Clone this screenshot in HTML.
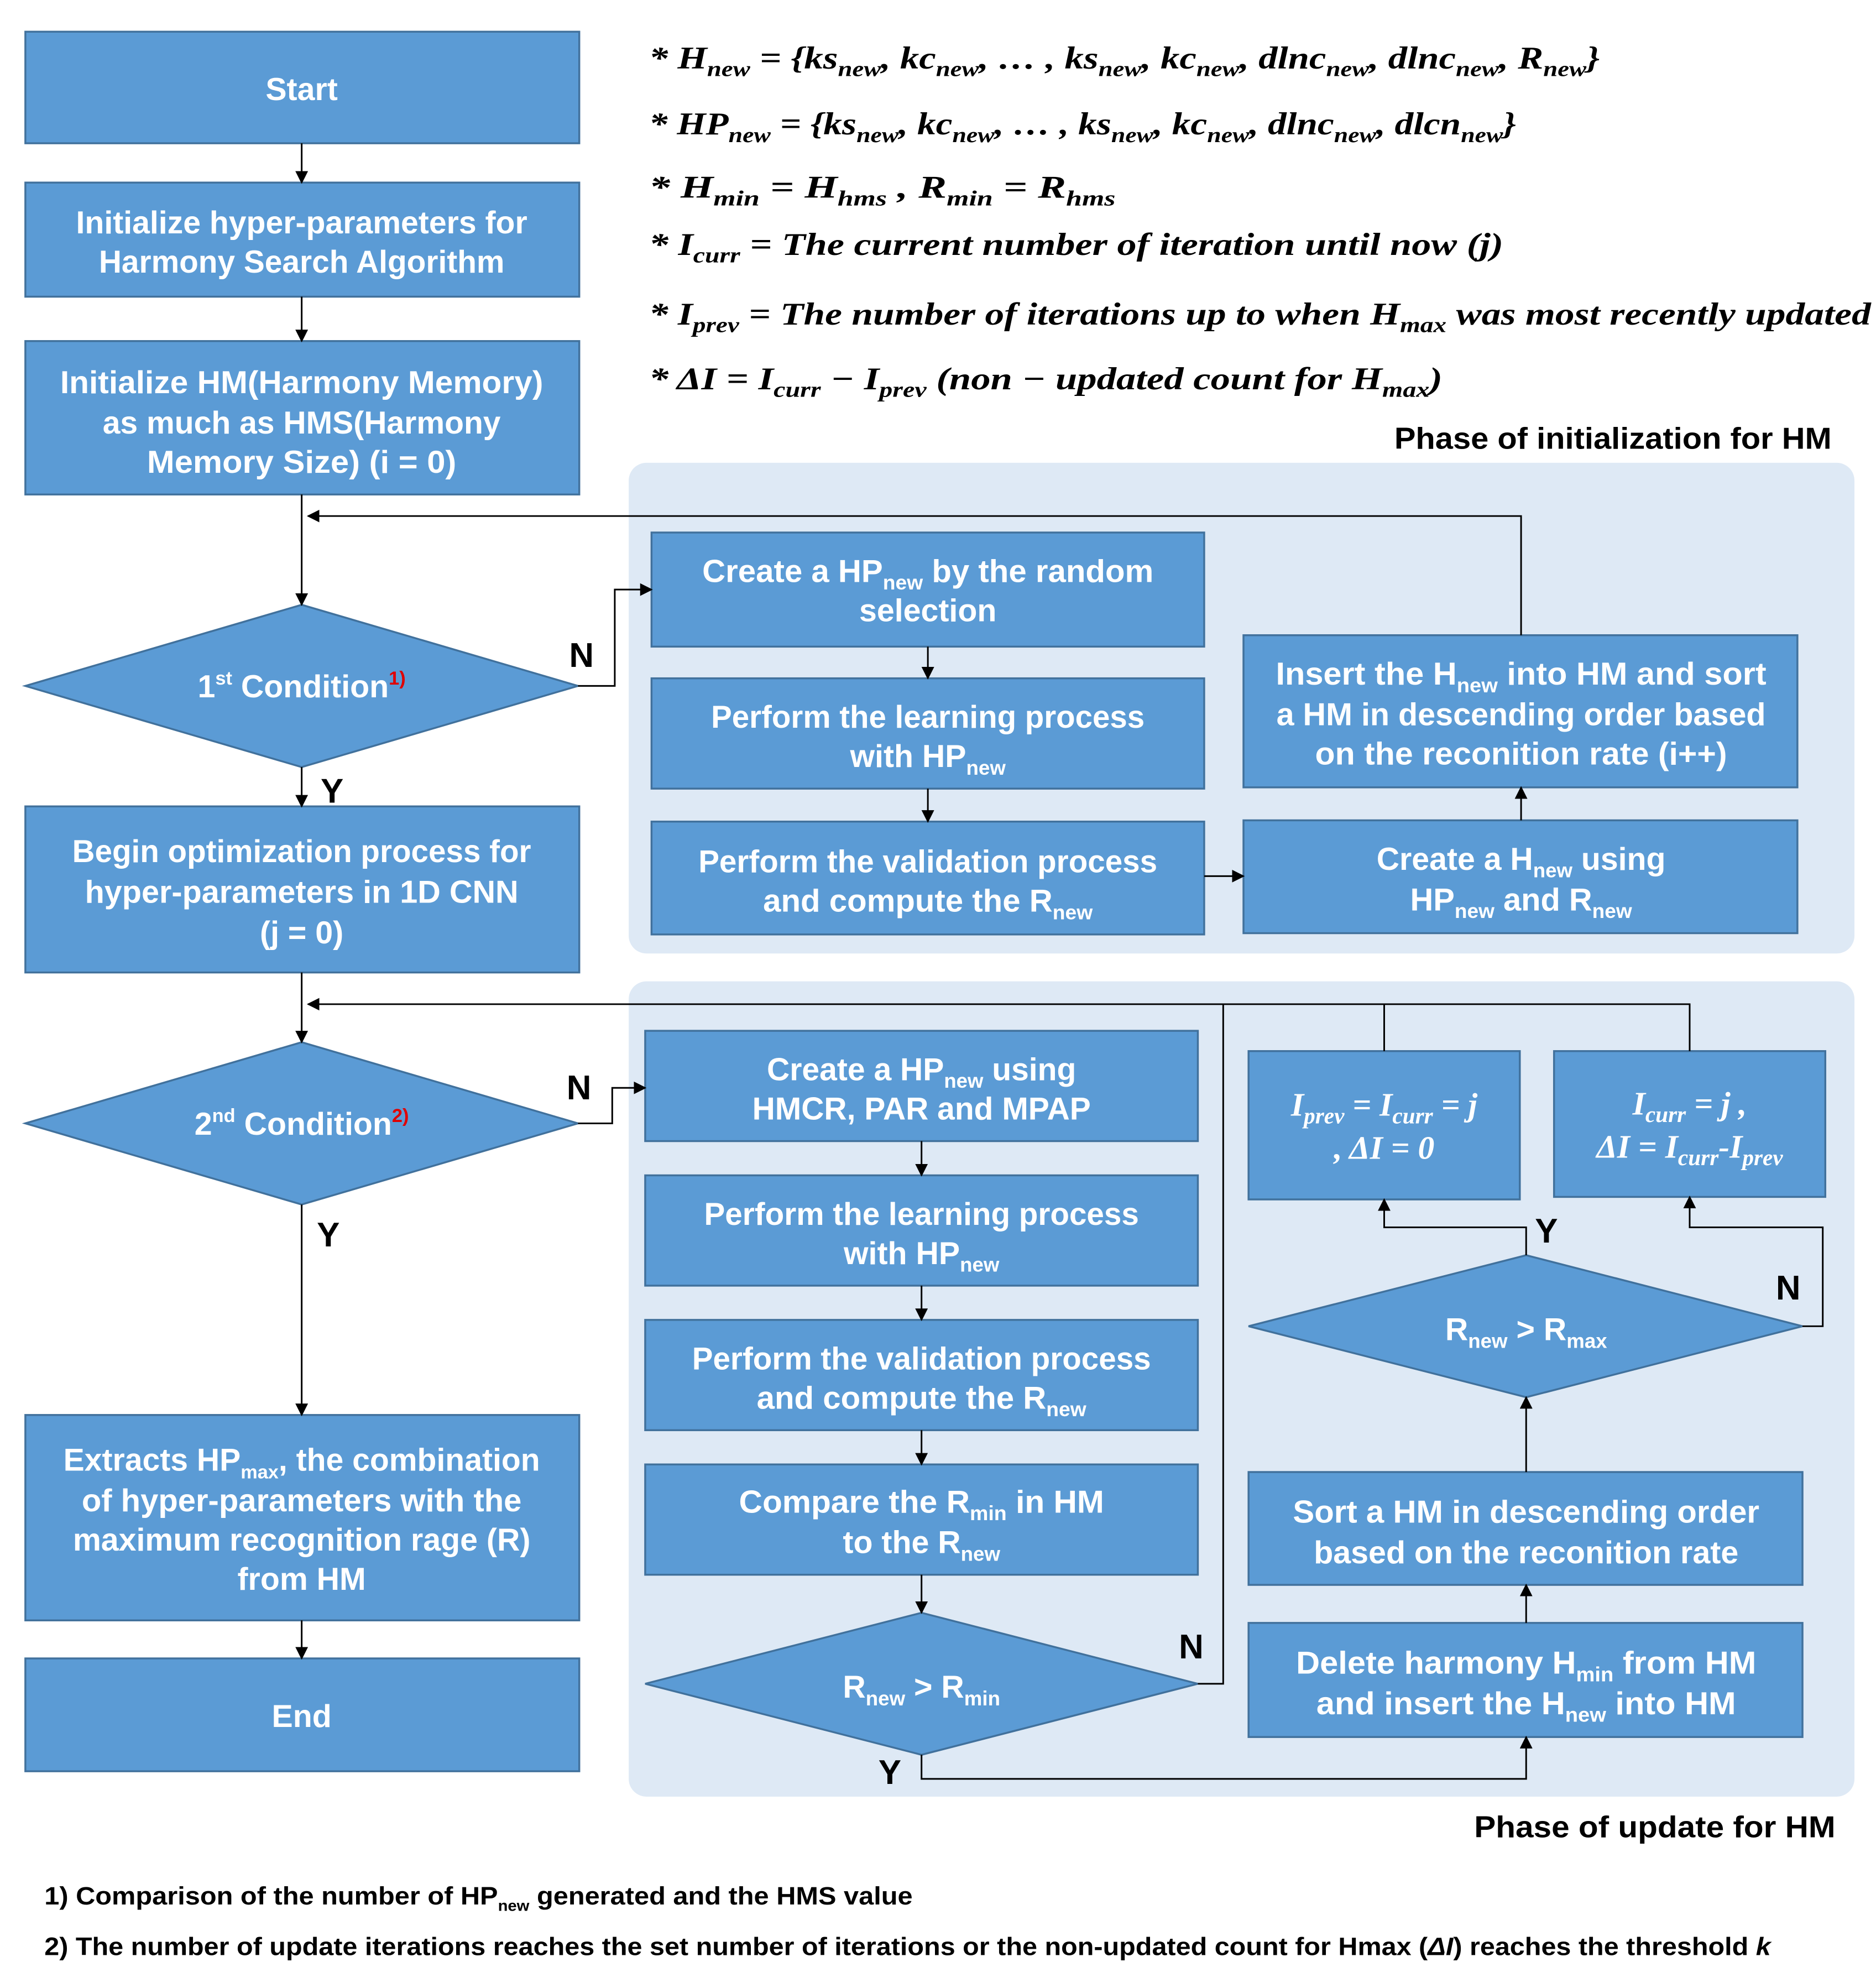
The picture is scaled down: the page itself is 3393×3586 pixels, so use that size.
<!DOCTYPE html>
<html><head><meta charset="utf-8"><style>html,body{margin:0;padding:0;background:#fff}svg{display:block}</style></head>
<body>
<svg width="3393" height="3586" viewBox="0 0 1480 1564" preserveAspectRatio="none" xmlns="http://www.w3.org/2000/svg">
<defs>
<marker id="a" markerWidth="10" markerHeight="10" refX="9" refY="5" orient="auto" markerUnits="userSpaceOnUse"><path d="M0,0 L10,5 L0,10 z" fill="#000"/></marker>
</defs>
<rect width="1480" height="1564" fill="#fff"/>
<!-- panels -->
<rect x="496" y="365" width="967" height="387" rx="14" fill="#dee9f5"/>
<rect x="496" y="774" width="967" height="643" rx="14" fill="#dee9f5"/>

<g fill="#5b9bd5" stroke="#41719c" stroke-width="1.5">
<rect x="20" y="25" width="437" height="88"/>
<rect x="20" y="144" width="437" height="90"/>
<rect x="20" y="269" width="437" height="121"/>
<polygon points="20,541 238,477 456,541 238,605"/>
<rect x="20" y="636" width="437" height="131"/>
<polygon points="20,886 238,822 456,886 238,950"/>
<rect x="20" y="1116" width="437" height="162"/>
<rect x="20" y="1308" width="437" height="89"/>
<rect x="514" y="420" width="436" height="90"/>
<rect x="514" y="535" width="436" height="87"/>
<rect x="514" y="648" width="436" height="89"/>
<rect x="981" y="501" width="437" height="120"/>
<rect x="981" y="647" width="437" height="89"/>
<rect x="509" y="813" width="436" height="87"/>
<rect x="509" y="927" width="436" height="87"/>
<rect x="509" y="1041" width="436" height="87"/>
<rect x="509" y="1155" width="436" height="87"/>
<polygon points="509,1328 727,1272 945,1328 727,1384"/>
<rect x="985" y="829" width="214" height="117"/>
<rect x="1226" y="829" width="214" height="115"/>
<polygon points="985,1046 1204,990 1422,1046 1204,1102"/>
<rect x="985" y="1161" width="437" height="89"/>
<rect x="985" y="1280" width="437" height="90"/>
</g>

<g fill="none" stroke="#000" stroke-width="1.3">
<line x1="238" y1="113" x2="238" y2="144" marker-end="url(#a)"/>
<line x1="238" y1="234" x2="238" y2="269" marker-end="url(#a)"/>
<line x1="238" y1="390" x2="238" y2="477" marker-end="url(#a)"/>
<polyline points="1200,501 1200,407 243,407" marker-end="url(#a)"/>
<polyline points="456,541 485,541 485,465 514,465" marker-end="url(#a)"/>
<line x1="732" y1="510" x2="732" y2="535" marker-end="url(#a)"/>
<line x1="732" y1="622" x2="732" y2="648" marker-end="url(#a)"/>
<line x1="950" y1="691" x2="981" y2="691" marker-end="url(#a)"/>
<line x1="1200" y1="647" x2="1200" y2="621" marker-end="url(#a)"/>
<line x1="238" y1="605" x2="238" y2="636" marker-end="url(#a)"/>
<line x1="238" y1="767" x2="238" y2="822" marker-end="url(#a)"/>
<polyline points="456,886 483,886 483,858 509,858" marker-end="url(#a)"/>
<line x1="238" y1="950" x2="238" y2="1116" marker-end="url(#a)"/>
<line x1="238" y1="1278" x2="238" y2="1308" marker-end="url(#a)"/>
<line x1="727" y1="900" x2="727" y2="927" marker-end="url(#a)"/>
<line x1="727" y1="1014" x2="727" y2="1041" marker-end="url(#a)"/>
<line x1="727" y1="1128" x2="727" y2="1155" marker-end="url(#a)"/>
<line x1="727" y1="1242" x2="727" y2="1272" marker-end="url(#a)"/>
<polyline points="945,1328 965,1328 965,792 243,792" marker-end="url(#a)"/>
<polyline points="965,792 1333,792 1333,829"/>
<line x1="1092" y1="792" x2="1092" y2="829"/>
<polyline points="727,1384 727,1403 1204,1403 1204,1370" marker-end="url(#a)"/>
<line x1="1204" y1="1280" x2="1204" y2="1250" marker-end="url(#a)"/>
<line x1="1204" y1="1161" x2="1204" y2="1102" marker-end="url(#a)"/>
<polyline points="1204,990 1204,968 1092,968 1092,946" marker-end="url(#a)"/>
<polyline points="1422,1046 1438,1046 1438,968 1333,968 1333,944" marker-end="url(#a)"/>
</g>

<g font-family="Liberation Sans, sans-serif" font-weight="bold" font-size="25" fill="#fff" text-anchor="middle" lengthAdjust="spacingAndGlyphs">
<text x="238" y="79">Start</text>
<text x="238" y="184" textLength="356" lengthAdjust="spacingAndGlyphs">Initialize hyper-parameters for</text>
<text x="238" y="215" textLength="320" lengthAdjust="spacingAndGlyphs">Harmony Search Algorithm</text>
<text x="238" y="310" textLength="381" lengthAdjust="spacingAndGlyphs">Initialize HM(Harmony Memory)</text>
<text x="238" y="342" textLength="314" lengthAdjust="spacingAndGlyphs">as much as HMS(Harmony</text>
<text x="238" y="373" textLength="244" lengthAdjust="spacingAndGlyphs">Memory Size) (i = 0)</text>
<text x="238" y="550">1<tspan font-size="15" dy="-10">st</tspan><tspan dy="10"> Condition</tspan><tspan font-size="15" dy="-10" fill="#e00000">1)</tspan></text>
<text x="238" y="680" textLength="362" lengthAdjust="spacingAndGlyphs">Begin optimization process for</text>
<text x="238" y="712" textLength="342" lengthAdjust="spacingAndGlyphs">hyper-parameters in 1D CNN</text>
<text x="238" y="744">(j = 0)</text>
<text x="238" y="895">2<tspan font-size="15" dy="-10">nd</tspan><tspan dy="10"> Condition</tspan><tspan font-size="15" dy="-10" fill="#e00000">2)</tspan></text>
<text x="238" y="1160" textLength="376" lengthAdjust="spacingAndGlyphs">Extracts HP<tspan font-size="15" dy="6">max</tspan><tspan dy="-6">, the combination</tspan></text>
<text x="238" y="1192" textLength="347" lengthAdjust="spacingAndGlyphs">of hyper-parameters with the</text>
<text x="238" y="1223" textLength="361" lengthAdjust="spacingAndGlyphs">maximum recognition rage (R)</text>
<text x="238" y="1254">from HM</text>
<text x="238" y="1362">End</text>

<text x="732" y="459" textLength="356" lengthAdjust="spacingAndGlyphs">Create a HP<tspan font-size="16" dy="6">new</tspan><tspan dy="-6"> by the random</tspan></text>
<text x="732" y="490">selection</text>
<text x="732" y="574" textLength="342" lengthAdjust="spacingAndGlyphs">Perform the learning process</text>
<text x="732" y="605">with HP<tspan font-size="16" dy="6">new</tspan></text>
<text x="732" y="688" textLength="362" lengthAdjust="spacingAndGlyphs">Perform the validation process</text>
<text x="732" y="719" textLength="260" lengthAdjust="spacingAndGlyphs">and compute the R<tspan font-size="16" dy="6">new</tspan></text>
<text x="1200" y="540" textLength="387" lengthAdjust="spacingAndGlyphs">Insert the H<tspan font-size="16" dy="6">new</tspan><tspan dy="-6"> into HM and sort</tspan></text>
<text x="1200" y="572" textLength="386" lengthAdjust="spacingAndGlyphs">a HM in descending order based</text>
<text x="1200" y="603" textLength="325" lengthAdjust="spacingAndGlyphs">on the reconition rate (i++)</text>
<text x="1200" y="686" textLength="228" lengthAdjust="spacingAndGlyphs">Create a H<tspan font-size="16" dy="6">new</tspan><tspan dy="-6"> using</tspan></text>
<text x="1200" y="718" textLength="175" lengthAdjust="spacingAndGlyphs">HP<tspan font-size="16" dy="6">new</tspan><tspan dy="-6"> and R</tspan><tspan font-size="16" dy="6">new</tspan></text>

<text x="727" y="852" textLength="244" lengthAdjust="spacingAndGlyphs">Create a HP<tspan font-size="16" dy="6">new</tspan><tspan dy="-6"> using</tspan></text>
<text x="727" y="883" textLength="267" lengthAdjust="spacingAndGlyphs">HMCR, PAR and MPAP</text>
<text x="727" y="966" textLength="343" lengthAdjust="spacingAndGlyphs">Perform the learning process</text>
<text x="727" y="997">with HP<tspan font-size="16" dy="6">new</tspan></text>
<text x="727" y="1080" textLength="362" lengthAdjust="spacingAndGlyphs">Perform the validation process</text>
<text x="727" y="1111" textLength="260" lengthAdjust="spacingAndGlyphs">and compute the R<tspan font-size="16" dy="6">new</tspan></text>
<text x="727" y="1193" textLength="288" lengthAdjust="spacingAndGlyphs">Compare the R<tspan font-size="16" dy="6">min</tspan><tspan dy="-6"> in HM</tspan></text>
<text x="727" y="1225">to the R<tspan font-size="16" dy="6">new</tspan></text>
<text x="727" y="1339">R<tspan font-size="16" dy="6">new</tspan><tspan dy="-6"> &gt; R</tspan><tspan font-size="16" dy="6">min</tspan></text>
<text x="1204" y="1057">R<tspan font-size="16" dy="6">new</tspan><tspan dy="-6"> &gt; R</tspan><tspan font-size="16" dy="6">max</tspan></text>
<text x="1204" y="1201" textLength="368" lengthAdjust="spacingAndGlyphs">Sort a HM in descending order</text>
<text x="1204" y="1233" textLength="335" lengthAdjust="spacingAndGlyphs">based on the reconition rate</text>
<text x="1204" y="1320" textLength="363" lengthAdjust="spacingAndGlyphs">Delete harmony H<tspan font-size="16" dy="6">min</tspan><tspan dy="-6"> from HM</tspan></text>
<text x="1204" y="1352" textLength="331" lengthAdjust="spacingAndGlyphs">and insert the H<tspan font-size="16" dy="6">new</tspan><tspan dy="-6"> into HM</tspan></text>
</g>

<g font-family="Liberation Serif, serif" font-style="italic" font-weight="bold" font-size="26" fill="#fff" text-anchor="middle">
<text x="1092" y="880">I<tspan font-size="18" dy="6">prev</tspan><tspan dy="-6"> = I</tspan><tspan font-size="18" dy="6">curr</tspan><tspan dy="-6"> = j</tspan></text>
<text x="1092" y="914">, ΔI = 0</text>
<text x="1333" y="879">I<tspan font-size="18" dy="6">curr</tspan><tspan dy="-6"> = j ,</tspan></text>
<text x="1333" y="913">ΔI = I<tspan font-size="18" dy="6">curr</tspan><tspan dy="-6">-I</tspan><tspan font-size="18" dy="6">prev</tspan></text>
</g>

<g font-family="Liberation Sans, sans-serif" font-weight="bold" font-size="27" fill="#000">
<text x="449" y="526">N</text>
<text x="253" y="633">Y</text>
<text x="447" y="867">N</text>
<text x="250" y="983">Y</text>
<text x="930" y="1308">N</text>
<text x="693" y="1407">Y</text>
<text x="1211" y="980">Y</text>
<text x="1401" y="1025">N</text>
<text x="1445" y="354" font-size="24" text-anchor="end" textLength="345" lengthAdjust="spacingAndGlyphs">Phase of initialization for HM</text>
<text x="1448" y="1449" font-size="24" text-anchor="end" textLength="285" lengthAdjust="spacingAndGlyphs">Phase of update for HM</text>
<text x="35" y="1502" font-size="20" textLength="685" lengthAdjust="spacingAndGlyphs">1) Comparison of the number of HP<tspan font-size="12" dy="5">new</tspan><tspan dy="-5"> generated and the HMS value</tspan></text>
<text x="35" y="1542" font-size="20" textLength="1362" lengthAdjust="spacingAndGlyphs">2) The number of update iterations reaches the set number of iterations or the non-updated count for Hmax (<tspan font-style="italic">ΔI</tspan>) reaches the threshold <tspan font-style="italic">k</tspan></text>
</g>

<g font-family="Liberation Serif, serif" font-style="italic" font-weight="bold" font-size="25" fill="#000" lengthAdjust="spacingAndGlyphs">
<text x="512" y="54" textLength="750" lengthAdjust="spacingAndGlyphs">* H<tspan font-size="17" dy="6">new</tspan><tspan dy="-6">   = {ks</tspan><tspan font-size="17" dy="6">new</tspan><tspan dy="-6">, kc</tspan><tspan font-size="17" dy="6">new</tspan><tspan dy="-6">, … , ks</tspan><tspan font-size="17" dy="6">new</tspan><tspan dy="-6">, kc</tspan><tspan font-size="17" dy="6">new</tspan><tspan dy="-6">, dlnc</tspan><tspan font-size="17" dy="6">new</tspan><tspan dy="-6">, dlnc</tspan><tspan font-size="17" dy="6">new</tspan><tspan dy="-6">, R</tspan><tspan font-size="17" dy="6">new</tspan><tspan dy="-6">}</tspan></text>
<text x="512" y="106" textLength="684" lengthAdjust="spacingAndGlyphs">* HP<tspan font-size="17" dy="6">new</tspan><tspan dy="-6"> = {ks</tspan><tspan font-size="17" dy="6">new</tspan><tspan dy="-6">, kc</tspan><tspan font-size="17" dy="6">new</tspan><tspan dy="-6">, … , ks</tspan><tspan font-size="17" dy="6">new</tspan><tspan dy="-6">, kc</tspan><tspan font-size="17" dy="6">new</tspan><tspan dy="-6">, dlnc</tspan><tspan font-size="17" dy="6">new</tspan><tspan dy="-6">, dlcn</tspan><tspan font-size="17" dy="6">new</tspan><tspan dy="-6">}</tspan></text>
<text x="512" y="156" textLength="368" lengthAdjust="spacingAndGlyphs">* H<tspan font-size="17" dy="6">min</tspan><tspan dy="-6">   = H</tspan><tspan font-size="17" dy="6">hms</tspan><tspan dy="-6"> ,  R</tspan><tspan font-size="17" dy="6">min</tspan><tspan dy="-6">  =  R</tspan><tspan font-size="17" dy="6">hms</tspan></text>
<text x="512" y="201" textLength="674" lengthAdjust="spacingAndGlyphs">* I<tspan font-size="17" dy="6">curr</tspan><tspan dy="-6">    = The current number of iteration until now (j)</tspan></text>
<text x="512" y="256" textLength="964" lengthAdjust="spacingAndGlyphs">* I<tspan font-size="17" dy="6">prev</tspan><tspan dy="-6">    = The number of iterations up to when H</tspan><tspan font-size="17" dy="6">max</tspan><tspan dy="-6"> was most recently updated</tspan></text>
<text x="512" y="307" textLength="626" lengthAdjust="spacingAndGlyphs">* ΔI   = I<tspan font-size="17" dy="6">curr</tspan><tspan dy="-6"> − I</tspan><tspan font-size="17" dy="6">prev</tspan><tspan dy="-6"> (non − updated count for H</tspan><tspan font-size="17" dy="6">max</tspan><tspan dy="-6">)</tspan></text>
</g>
</svg>
</body></html>
